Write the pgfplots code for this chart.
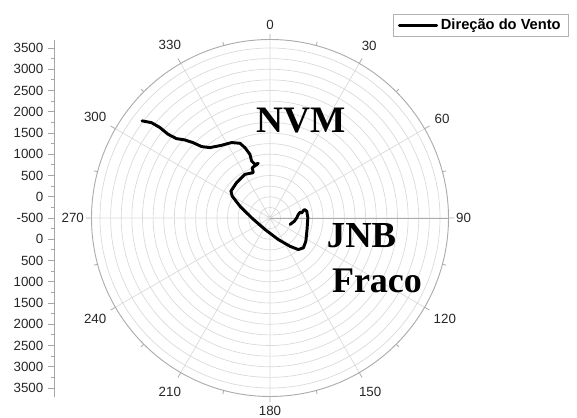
\documentclass[border=0pt]{standalone}
\usepackage{pgfplots}
\pgfplotsset{compat=1.18}
\usepgfplotslibrary{polar}
\usepackage{fontspec}
\setmainfont{Liberation Sans}
\newfontfamily\tnr{Liberation Serif}
\begin{document}
\begin{tikzpicture}
\useasboundingbox (0,0) rectangle (432.75pt,312.75pt);
% left radial scale
\begin{axis}[
  scale only axis, width=1pt, height=267.75pt,
  at={(40.5pt,15.375pt)}, anchor=south west,
  xmin=0, xmax=1, ymin=-4200, ymax=4200,
  axis y line*=left, hide x axis,
  ytick={-4000,-3500,...,4000},
  yticklabels={3500,3000,2500,2000,1500,1000,500,0,-500,0,500,1000,1500,2000,2500,3000,3500},
  minor y tick num=1,
  tick align=outside,
  major tick length=4.5pt, minor tick length=2.5pt,
  axis line style={gray!70, line width=0.6pt},
  tick style={gray!70, line width=0.6pt},
  yticklabel style={font=\fontsize{10}{12}\selectfont, text=black!85},
]
\end{axis}
\begin{polaraxis}[
  scale only axis, width=267.75pt, height=267.75pt,
  at={(202.5pt,149.25pt)}, anchor=center,
  xmin=0, xmax=360, ymin=0, ymax=4200,
  xtick={0,30,...,330},
  xticklabels={90,60,30,0,330,300,270,240,210,180,150,120},
  minor xtick={15,45,...,345},
  ytick={250,500,...,4000},
  yticklabels={},
  y tick style={draw=none},
  xmajorgrids, ymajorgrids,
  major grid style={gray!30, line width=0.5pt},
  axis line style={gray!65, line width=0.7pt},
  x tick style={gray!65, line width=0.6pt},
  xticklabel style={font=\fontsize{10}{12}\selectfont, text=black!85, inner xsep=5.5pt, inner ysep=7pt},
  x filter/.expression={ifthenelse(x>90,450-x,90-x)},
  y filter/.expression={y+500},
  clip=false,
  legend style={at={(0.8446,1.0714)}, anchor=north west, draw=gray!60,
    font=\bfseries\fontsize{11}{12}\selectfont, inner xsep=3.5pt, inner ysep=1.5pt},
  legend cell align=left,
  legend image code/.code={\draw[#1] (0pt,0pt) -- (28pt,0pt);},
]
\addplot[black, line width=2.2pt, line join=round, line cap=round] coordinates {
(307.2,3280) (308.8,3082) (309.4,2858) (309.4,2606) (310.3,2388)
(312.5,2219) (314.4,2035) (316.2,1829) (319.5,1678) (326.3,1556)
(333.0,1492) (338.1,1395) (340.4,1258) (342.5,1072) (342.1,909)
(344.3,812) (347.9,814) (340.6,755) (339.7,637) (330.1,685)
(316.6,645) (304.5,616) (300.0,526) (291.5,260) (270.6,-68)
(203.5,-205) (158.9,43) (144.7,316) (138.1,498) (131.8,555)
(123.0,505) (107.3,413) (89.7,390) (79.5,380) (76.1,333)
(80.7,257) (79.1,222) (82.9,172) (89.6,130) (97.5,78) (108,-4)
};
\addlegendentry{Direção do Vento}
\end{polaraxis}
\node[anchor=base west, inner sep=0, font=\tnr\bfseries\fontsize{28}{30}\selectfont] at (192.5pt,213pt) {NVM};
\node[anchor=base west, inner sep=0, font=\tnr\bfseries\fontsize{27.5}{30}\selectfont] at (245pt,126.75pt) {JNB};
\node[anchor=base west, inner sep=0, font=\tnr\bfseries\fontsize{27}{30}\selectfont] at (248.8pt,93pt) {Fraco};
\end{tikzpicture}
\end{document}
